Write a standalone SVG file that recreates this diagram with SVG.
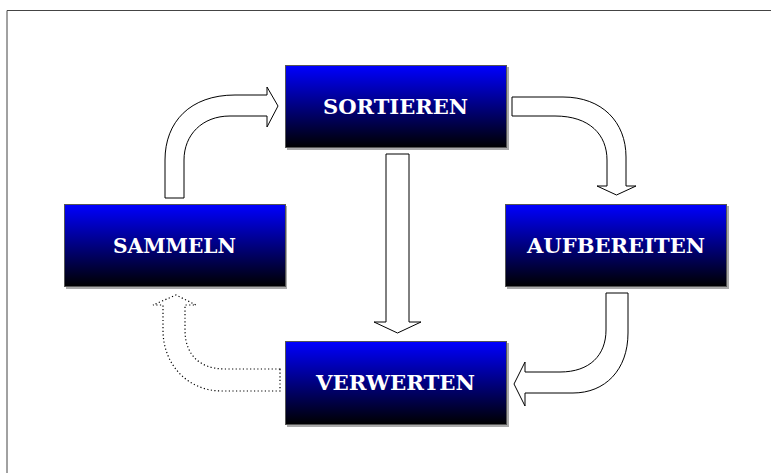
<svg xmlns="http://www.w3.org/2000/svg" width="771" height="473" viewBox="0 0 771 473">
<defs>
<linearGradient id="g" x1="0" y1="0" x2="0" y2="1">
<stop offset="0" stop-color="#0000ff"/>
<stop offset="1" stop-color="#000000"/>
</linearGradient>
</defs>
<style>
.box{fill:url(#g);stroke:#555;stroke-width:1}
.sh{fill:#aaa}
.lbl{font-family:"DejaVu Serif","Liberation Serif",serif;font-weight:bold;font-size:20px;fill:#fff}
.arr{fill:#fff;stroke:#000;stroke-width:1;stroke-linejoin:miter}
.dot{fill:#fff;stroke:#000;stroke-width:1.2;stroke-dasharray:1.2 2.4}
.frame{fill:none;stroke:#444;stroke-width:1}
</style>
<rect width="771" height="473" fill="#fff"/>
<path class="frame" d="M7,473 V10.5 H771"/>
<g id="connectors">
<path class="arr" d="M165,198 V160 C165,122 190,95 235,95 H267 V87 L278,106 L267,127 V116 H230 C202,116 184,135 184,160 V198 Z"/>
<path class="arr" d="M512,97 H563 C602,97 626,122 626,157 V186 H636 L616.5,195 L597,186 H607 V160 C607,135 590,116 555,116 H512 Z"/>
<path class="arr" d="M628,293 V333 C628,370 605,393 573,393 H525 V406 L514,384 L525,362 V372 H560 C590,372 606,355 606,330 V293 Z"/>
<path class="dot" d="M280,369 V391 H222 C188,391 163,365 163,330 V305 H153 L176,295 L196,305 H185 V330 C185,355 200,369 225,369 Z"/>
<path class="arr" d="M386,154 H409 V322 H421 L397.5,333 L374,322 H386 Z"/>
</g>
<g id="sortieren">
<rect class="sh" x="287" y="67" width="222" height="83"/>
<rect class="box" x="285.5" y="65.5" width="221" height="82"/>
<text class="lbl" x="323" y="114" textLength="145" lengthAdjust="spacingAndGlyphs">SORTIEREN</text>
</g>
<g id="sammeln">
<rect class="sh" x="66" y="206" width="221" height="83"/>
<rect class="box" x="64.5" y="204.5" width="221" height="82"/>
<text class="lbl" x="113" y="253" textLength="123" lengthAdjust="spacingAndGlyphs">SAMMELN</text>
</g>
<g id="aufbereiten">
<rect class="sh" x="507" y="206" width="222" height="83"/>
<rect class="box" x="505.5" y="204.5" width="221" height="82"/>
<text class="lbl" x="527" y="253" textLength="178" lengthAdjust="spacingAndGlyphs">AUFBEREITEN</text>
</g>
<g id="verwerten">
<rect class="sh" x="287" y="343" width="222" height="84"/>
<rect class="box" x="285.5" y="341.5" width="221" height="83"/>
<text class="lbl" x="316" y="390" textLength="159" lengthAdjust="spacingAndGlyphs">VERWERTEN</text>
</g>
</svg>
